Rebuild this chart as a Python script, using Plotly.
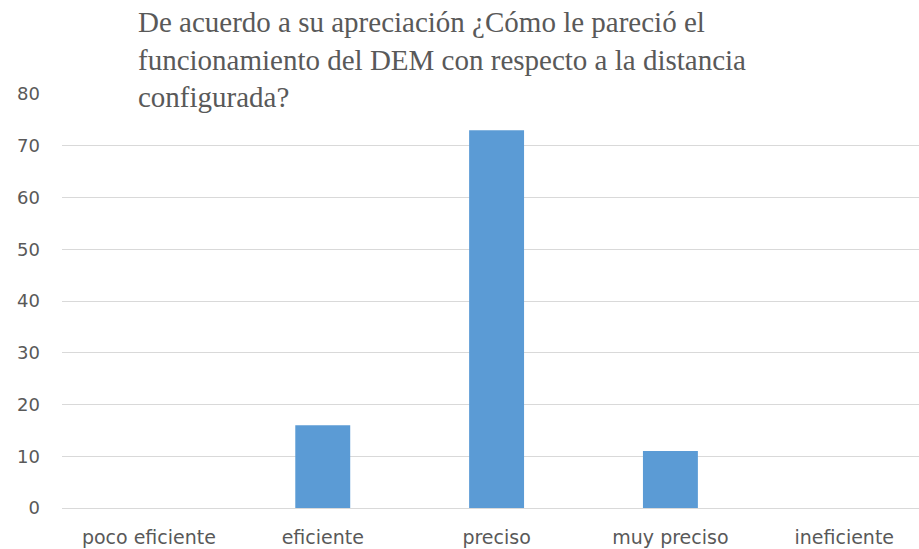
import plotly.graph_objects as go

# Survey answers and response counts
categories = ["poco eficiente", "eficiente", "preciso", "muy preciso", "ineficiente"]
counts = [0, 16, 73, 11, 0]
y_ticks = [0, 10, 20, 30, 40, 50, 60, 70, 80]

title_text = ("De acuerdo a su apreciación ¿Cómo le pareció el<br>"
              "funcionamiento del DEM con respecto a la distancia<br>"
              "configurada?")

W, H = 919, 549
M_L, M_R, M_T, M_B = 61.5, 0, 94, 41.3
plot_h = H - M_T - M_B


def paper_y(px):
    """Convert a pixel row (from the top of the figure) to paper y."""
    return (H - M_B - px) / plot_h


fig = go.Figure(
    go.Bar(
        x=list(range(len(categories))),
        y=counts,
        width=0.316,
        marker=dict(color="#5B9BD5", line=dict(width=0)),
        hoverinfo="skip",
    )
)

fig.update_layout(
    width=W,
    height=H,
    margin=dict(l=M_L, r=M_R, t=M_T, b=M_B, pad=0),
    paper_bgcolor="white",
    plot_bgcolor="white",
    showlegend=False,
    annotations=[
        dict(
            text=title_text,
            font=dict(family="Liberation Serif", size=29, color="#595959"),
            xref="paper",
            yref="paper",
            x=(136 - M_L) / (W - M_L - M_R),
            y=paper_y(4),
            xanchor="left",
            yanchor="top",
            align="left",
            showarrow=False,
        )
    ],
)

fig.update_xaxes(
    range=[-0.5, 4.43],
    tickmode="array",
    tickvals=list(range(len(categories))),
    ticktext=categories,
    showgrid=False,
    showline=False,
    zeroline=False,
    ticks="",
    ticklabelstandoff=16,
    tickfont=dict(family="DejaVu Sans", size=19, color="#595959"),
    fixedrange=True,
)

fig.update_yaxes(
    range=[0, 80],
    tickmode="array",
    tickvals=y_ticks,
    showgrid=True,
    gridcolor="#D9D9D9",
    gridwidth=1,
    zeroline=True,
    zerolinecolor="#D9D9D9",
    zerolinewidth=1,
    showline=False,
    ticks="",
    ticklabelstandoff=21,
    tickfont=dict(family="DejaVu Sans", size=18, color="#595959"),
    fixedrange=True,
)

fig.write_html("out.html", config={"displayModeBar": False})
